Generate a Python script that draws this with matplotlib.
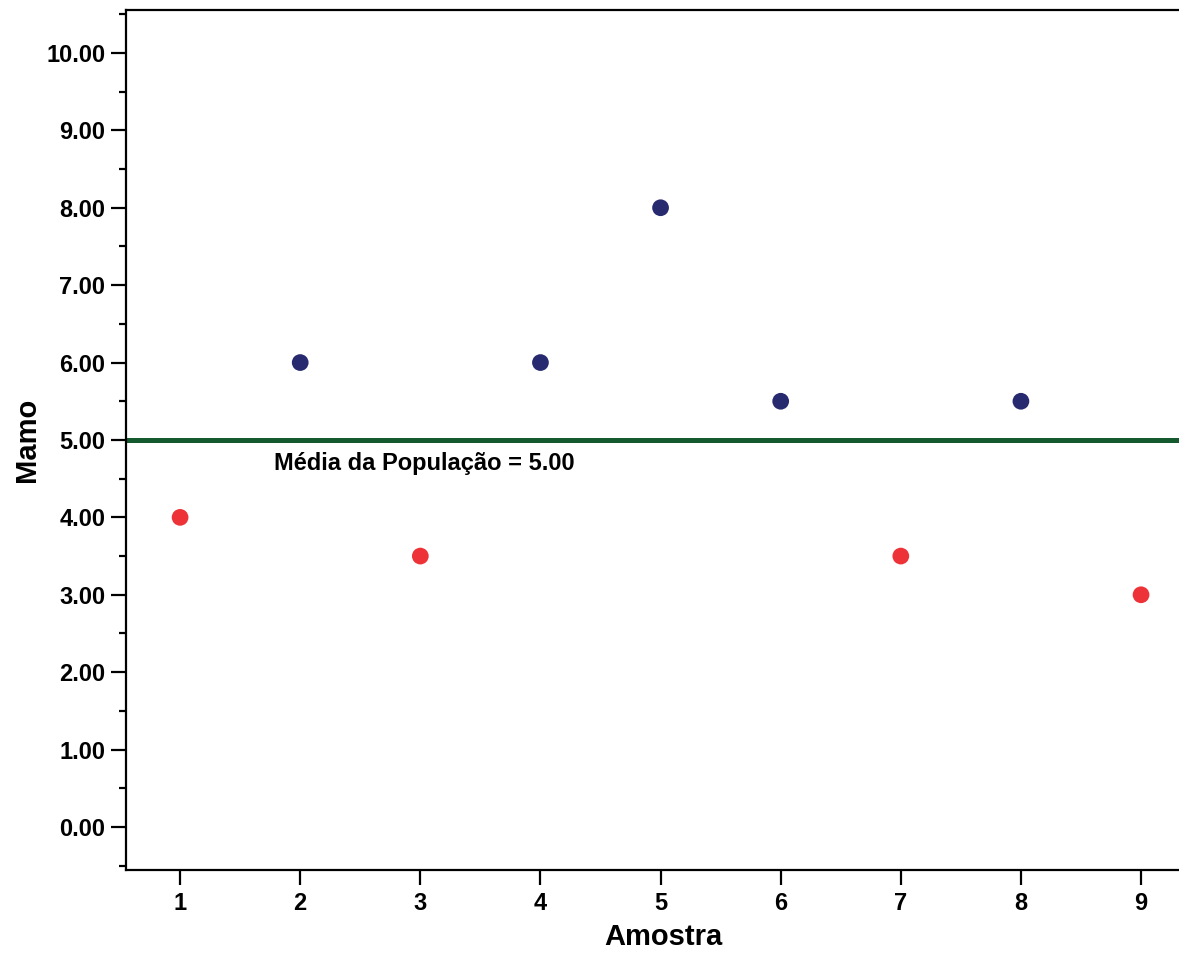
import matplotlib
matplotlib.use("Agg")
import matplotlib.pyplot as plt
import numpy as np

plt.rcParams['font.family'] = ['Liberation Sans', 'DejaVu Sans']
plt.rcParams['font.weight'] = 'bold'

# amostras e valores de Mamo
amostra = [1, 2, 3, 4, 5, 6, 7, 8, 9]
mamo = [4.0, 6.0, 3.5, 6.0, 8.0, 5.5, 3.5, 5.5, 3.0]
media_pop = 5.00

cor_acima = '#272a6e'
cor_abaixo = '#ee3338'
cor_media = '#15592f'

cores = [cor_acima if v > media_pop else cor_abaixo for v in mamo]

fig = plt.figure(figsize=(11.79, 9.58), dpi=100)
ax = fig.add_axes([0.1069, 0.0919, 0.8931, 0.8977])

ax.axhline(media_pop, color=cor_media, lw=3.6, zorder=1)
ax.scatter(amostra, mamo, s=145, c=cores, edgecolors='none', zorder=3)
ax.text(1.78, 4.70, f'Média da População = {media_pop:.2f}', fontsize=17,
        fontweight='bold', va='center', ha='left')

ax.set_xlim(0.55, 9.316)
ax.set_ylim(-0.555, 10.555)
ax.set_xticks(amostra)
ax.set_yticks(np.arange(0, 11, 1))
ax.set_yticks(np.arange(-0.5, 11, 1), minor=True)
ax.yaxis.set_major_formatter(matplotlib.ticker.FormatStrFormatter('%.2f'))

ax.spines['right'].set_visible(False)
for s in ['left', 'bottom', 'top']:
    ax.spines[s].set_linewidth(1.6)

ax.tick_params(axis='both', which='major', length=11, width=1.6,
               labelsize=17, pad=4)
ax.tick_params(axis='y', which='minor', length=5, width=1.6)
ax.tick_params(axis='x', which='major', pad=5)

ax.set_xlabel('Amostra', fontsize=21, fontweight='bold')
ax.set_ylabel('Mamo', fontsize=21, fontweight='bold')
ax.xaxis.set_label_coords(0.51, -0.062)
ax.yaxis.set_label_coords(-0.081, 0.5)

fig.savefig('out.png', dpi=100)
